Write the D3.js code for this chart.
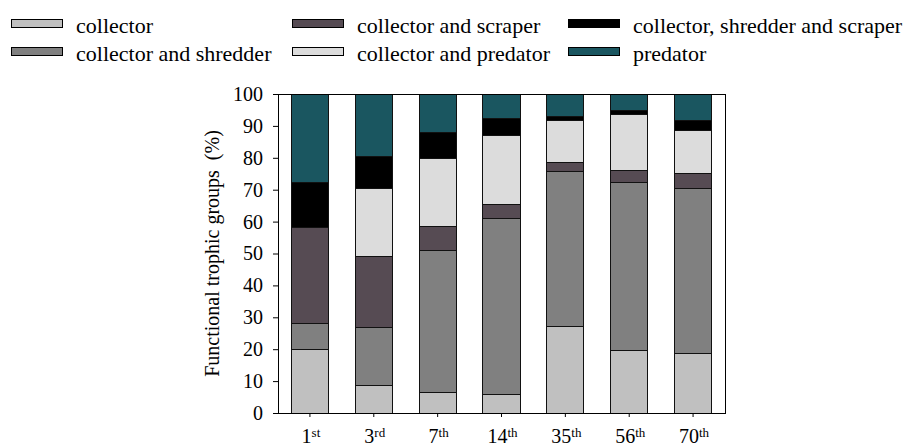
<!DOCTYPE html>
<html>
<head>
<meta charset="utf-8">
<script src="https://cdn.jsdelivr.net/npm/d3@7/dist/d3.min.js"></script>
<style>
  html, body { margin: 0; padding: 0; background: #fff; }
  svg { display: block; }
  svg text { font-family: "Liberation Serif", "Times New Roman", serif; }
</style>
</head>
<body>
<svg id="chart" width="917" height="446"></svg>
<script>
// Sampling days (ordinal number + suffix)
const dayNumbers = ["1", "3", "7", "14", "35", "56", "70"];
const daySuffixes = ["st", "rd", "th", "th", "th", "th", "th"];

// Functional trophic group shares (%) per sampling day
const groups = [
  "collector",
  "collector and shredder",
  "collector and scraper",
  "collector and predator",
  "collector, shredder and scraper",
  "predator"
];
const collector          = [19.9,  8.5,  6.4,  5.8, 27.2, 19.6, 18.6];
const collectorShredder  = [ 8.1, 18.3, 44.4, 55.1, 48.5, 52.8, 51.7];
const collectorScraper   = [30.3, 22.2,  7.7,  4.4,  2.7,  3.7,  4.7];
const collectorPredator  = [ 0.0, 21.4, 21.4, 21.7, 13.3, 17.6, 13.7];
const collShredScraper   = [14.0, 10.0,  7.9,  5.3,  1.1,  1.2,  3.0];
const predator           = [27.7, 19.6, 12.2,  7.7,  7.2,  5.1,  8.3];

const yTicks = [0, 10, 20, 30, 40, 50, 60, 70, 80, 90, 100];

const colors = ["#c0c0c0", "#808080", "#564b53", "#dcdcdc", "#000000", "#1a5660"];

const seriesValues = [collector, collectorShredder, collectorScraper,
                      collectorPredator, collShredScraper, predator];

const rows = dayNumbers.map((d, i) => {
  const r = { day: d };
  groups.forEach((g, k) => { r[g] = seriesValues[k][i]; });
  return r;
});

const serif = "'Liberation Serif', 'Times New Roman', serif";
const svg = d3.select("#chart");
const plotLeft = 278, plotRight = 725, plotTop = 94, plotBottom = 413;

const x = d3.scaleBand().domain(dayNumbers).range([plotLeft, plotRight])
  .paddingInner(0.42).paddingOuter(0.21);
const y = d3.scaleLinear().domain([0, 100]).range([plotBottom, plotTop]);
const color = d3.scaleOrdinal().domain(groups).range(colors);

const stacked = d3.stack().keys(groups)(rows);

// Stacked bars
svg.append("g").selectAll("g")
  .data(stacked)
  .join("g")
    .attr("fill", d => color(d.key))
  .selectAll("rect")
  .data(d => d)
  .join("rect")
    .attr("x", d => x(d.data.day))
    .attr("y", d => y(d[1]))
    .attr("width", x.bandwidth())
    .attr("height", d => y(d[0]) - y(d[1]))
    .attr("stroke", "#111")
    .attr("stroke-width", 1)
    .attr("shape-rendering", "crispEdges");

// Plot frame
svg.append("rect")
  .attr("x", plotLeft).attr("y", plotTop)
  .attr("width", plotRight - plotLeft).attr("height", plotBottom - plotTop)
  .attr("fill", "none").attr("stroke", "#000").attr("stroke-width", 1)
  .attr("shape-rendering", "crispEdges");

// Y axis
const yAxis = svg.append("g")
  .attr("transform", `translate(${plotLeft},0)`)
  .call(d3.axisLeft(y).tickValues(yTicks).tickSize(5).tickPadding(10));
yAxis.attr("font-family", serif);
yAxis.select(".domain").remove();
yAxis.selectAll("line").attr("stroke", "#000");
yAxis.selectAll("text")
  .style("font-family", serif)
  .attr("font-size", 20).attr("fill", "#000");

// X axis (ticks only; labels carry ordinal suffixes)
const xAxis = svg.append("g")
  .attr("transform", `translate(0,${plotBottom})`)
  .call(d3.axisBottom(x).tickSize(4).tickFormat(""));
xAxis.select(".domain").remove();
xAxis.selectAll("line").attr("stroke", "#000");

const xLabels = svg.append("g").selectAll("text")
  .data(dayNumbers)
  .join("text")
    .attr("x", d => x(d) + x.bandwidth() / 2 + 1)
    .attr("y", 443)
    .attr("text-anchor", "middle")
    .style("font-family", serif)
    .attr("fill", "#000");
xLabels.append("tspan")
  .attr("font-size", 20)
  .text(d => d);
xLabels.append("tspan")
  .attr("font-size", 13)
  .attr("dy", -6)
  .text((d, i) => daySuffixes[i]);

// Y axis title
svg.append("text")
  .attr("transform", `translate(219,${(plotTop + plotBottom) / 2}) rotate(-90)`)
  .attr("text-anchor", "middle")
  .attr("font-size", 20)
  .style("font-family", serif)
  .attr("fill", "#000")
  .style("white-space", "pre")
  .text("Functional trophic groups  (%)");

// Legend: three columns of two entries
const legendCols = [11, 292, 568];
const legendRows = [33, 61];
const legend = svg.append("g").selectAll("g")
  .data(groups)
  .join("g")
    .attr("transform", (d, i) =>
      `translate(${legendCols[Math.floor(i / 2)]},${legendRows[i % 2]})`);
legend.append("rect")
  .attr("x", 0).attr("y", -14)
  .attr("width", 51).attr("height", 8)
  .attr("fill", d => color(d))
  .attr("stroke", "#000").attr("stroke-width", 1)
  .attr("shape-rendering", "crispEdges");
legend.append("text")
  .attr("x", 65).attr("y", 0)
  .attr("font-size", 22)
  .style("font-family", serif)
  .attr("fill", "#000")
  .text(d => d);
</script>
</body>
</html>
